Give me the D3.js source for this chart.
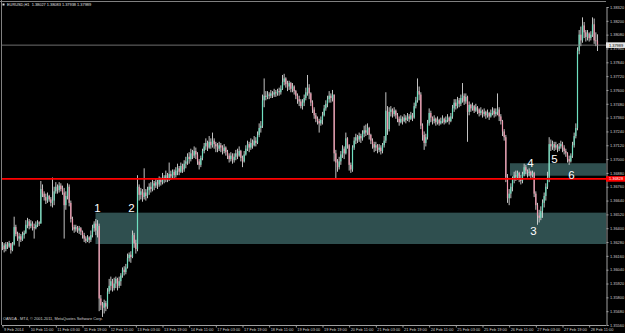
<!DOCTYPE html>
<html><head><meta charset="utf-8">
<script src="https://cdn.jsdelivr.net/npm/d3@7"></script>
<style>html,body{margin:0;padding:0;background:#000;overflow:hidden}svg{display:block}</style>
</head><body><svg id="c" width="625" height="333"></svg>
<script>
const symbolTitle = "EURUSD,H1  1.38027 1.38083 1.37938 1.37989";
const copyright = "OANDA - MT4, \u00A9 2001-2011, MetaQuotes Software Corp.";
const firstOpen = 1.3624;
const closes = [
1.3625,1.3622,1.3626,1.3624,1.3627,1.3621,1.3626,1.3641,1.3635,1.3631,
1.3633,1.3630,1.3634,1.3636,1.3643,1.3646,1.3642,1.3644,1.3641,1.3640,
1.3643,1.3645,1.3644,1.3674,1.3670,1.3667,1.3664,1.3668,1.3665,1.3662,
1.3664,1.3672,1.3676,1.3673,1.3677,1.3674,1.3671,1.3660,1.3668,1.3676,
1.3662,1.3648,1.3641,1.3639,1.3641,1.3638,1.3640,1.3637,1.3634,1.3631,
1.3629,1.3632,1.3630,1.3634,1.3640,1.3644,1.3638,1.3642,1.3579,1.3573,
1.3571,1.3575,1.3572,1.3585,1.3590,1.3594,1.3588,1.3592,1.3596,1.3590,
1.3594,1.3599,1.3604,1.3602,1.3606,1.3614,1.3617,1.3615,1.3634,1.3627,
1.3622,1.3676,1.3669,1.3672,1.3667,1.3671,1.3668,1.3673,1.3676,1.3674,
1.3679,1.3677,1.3680,1.3678,1.3682,1.3680,1.3684,1.3682,1.3686,1.3683,
1.3687,1.3685,1.3689,1.3686,1.3690,1.3692,1.3689,1.3694,1.3691,1.3696,
1.3698,1.3702,1.3700,1.3705,1.3703,1.3707,1.3704,1.3698,1.3695,1.3701,
1.3707,1.3711,1.3714,1.3710,1.3715,1.3712,1.3716,1.3713,1.3711,1.3709,
1.3712,1.3710,1.3707,1.3710,1.3706,1.3703,1.3700,1.3703,1.3699,1.3702,
1.3705,1.3703,1.3707,1.3701,1.3698,1.3704,1.3709,1.3713,1.3710,1.3714,
1.3712,1.3716,1.3714,1.3721,1.3727,1.3729,1.3751,1.3755,1.3754,1.3756,
1.3755,1.3757,1.3756,1.3758,1.3757,1.3759,1.3758,1.3761,1.3767,1.3770,
1.3765,1.3763,1.3766,1.3761,1.3763,1.3759,1.3755,1.3752,1.3750,1.3746,
1.3749,1.3753,1.3758,1.3762,1.3757,1.3749,1.3743,1.3738,1.3735,1.3733,
1.3731,1.3734,1.3738,1.3744,1.3748,1.3752,1.3755,1.3753,1.3756,1.3705,
1.3697,1.3693,1.3698,1.3704,1.3709,1.3705,1.3718,1.3712,1.3695,1.3691,
1.3710,1.3716,1.3719,1.3717,1.3720,1.3718,1.3722,1.3725,1.3723,1.3727,
1.3721,1.3716,1.3713,1.3710,1.3712,1.3708,1.3710,1.3707,1.3712,1.3716,
1.3742,1.3726,1.3741,1.3743,1.3739,1.3742,1.3738,1.3735,1.3732,1.3735,
1.3733,1.3736,1.3734,1.3737,1.3735,1.3738,1.3736,1.3746,1.3751,1.3759,
1.3756,1.3729,1.3721,1.3714,1.3719,1.3731,1.3740,1.3736,1.3733,1.3735,
1.3732,1.3734,1.3731,1.3733,1.3735,1.3732,1.3734,1.3736,1.3733,1.3737,
1.3744,1.3749,1.3746,1.3751,1.3748,1.3753,1.3755,1.3750,1.3754,1.3741,
1.3747,1.3744,1.3746,1.3742,1.3745,1.3743,1.3740,1.3742,1.3739,1.3741,
1.3738,1.3740,1.3737,1.3740,1.3742,1.3739,1.3741,1.3743,1.3737,1.3733,
1.3724,1.3719,1.3684,1.3666,1.3670,1.3676,1.3682,1.3686,1.3684,1.3688,
1.3683,1.3681,1.3687,1.3693,1.3690,1.3688,1.3689,1.3686,1.3688,1.3670,
1.3660,1.3651,1.3649,1.3655,1.3662,1.3668,1.3676,1.3684,1.3713,1.3711,
1.3713,1.3710,1.3712,1.3709,1.3711,1.3713,1.3710,1.3707,1.3705,1.3700,
1.3698,1.3703,1.3712,1.3720,1.3727,1.3794,1.3808,1.3803,1.3816,1.3810,
1.3806,1.3809,1.3805,1.3808,1.3817,1.3803,1.38027,1.37989];
const highs = [
1.3628,1.3627,1.3628,1.3628,1.3629,1.3627,1.3628,1.3650,1.3643,1.3637,
1.3636,1.3635,1.3637,1.3638,1.3647,1.3649,1.3648,1.3647,1.3646,1.3644,
1.3646,1.3647,1.3646,1.3681,1.3678,1.3672,1.3670,1.3671,1.3669,1.3667,
1.3684,1.3676,1.3680,1.3678,1.3680,1.3679,1.3677,1.3675,1.3672,1.3679,
1.3678,1.3664,1.3650,1.3643,1.3643,1.3642,1.3642,1.3641,1.3638,1.3636,
1.3633,1.3634,1.3633,1.3638,1.3643,1.3646,1.3648,1.3647,1.3644,1.3582,
1.3576,1.3578,1.3577,1.3588,1.3596,1.3598,1.3596,1.3597,1.3598,1.3597,
1.3598,1.3601,1.3606,1.3607,1.3609,1.3618,1.3619,1.3620,1.3638,1.3636,
1.3630,1.3686,1.3678,1.3675,1.3674,1.3692,1.3674,1.3676,1.3679,1.3680,
1.3682,1.3681,1.3683,1.3682,1.3685,1.3684,1.3688,1.3686,1.3690,1.3688,
1.3697,1.3690,1.3691,1.3691,1.3693,1.3696,1.3694,1.3697,1.3696,1.3699,
1.3702,1.3705,1.3706,1.3709,1.3708,1.3711,1.3710,1.3706,1.3700,1.3703,
1.3709,1.3714,1.3718,1.3716,1.3720,1.3718,1.3723,1.3718,1.3715,1.3714,
1.3715,1.3714,1.3712,1.3713,1.3711,1.3708,1.3705,1.3706,1.3705,1.3705,
1.3708,1.3709,1.3711,1.3708,1.3703,1.3707,1.3712,1.3716,1.3715,1.3718,
1.3717,1.3720,1.3719,1.3724,1.3731,1.3733,1.3756,1.3770,1.3759,1.3759,
1.3758,1.3760,1.3759,1.3761,1.3760,1.3761,1.3762,1.3764,1.3773,1.3774,
1.3771,1.3768,1.3768,1.3767,1.3766,1.3764,1.3760,1.3757,1.3755,1.3752,
1.3752,1.3756,1.3762,1.3773,1.3765,1.3758,1.3751,1.3745,1.3740,1.3737,
1.3735,1.3737,1.3741,1.3747,1.3751,1.3755,1.3759,1.3757,1.3760,1.3756,
1.3708,1.3700,1.3702,1.3707,1.3712,1.3711,1.3723,1.3719,1.3713,1.3697,
1.3712,1.3719,1.3722,1.3721,1.3723,1.3722,1.3725,1.3729,1.3730,1.3731,
1.3728,1.3722,1.3718,1.3715,1.3715,1.3713,1.3713,1.3712,1.3714,1.3720,
1.3758,1.3746,1.3745,1.3746,1.3744,1.3745,1.3743,1.3740,1.3737,1.3738,
1.3737,1.3739,1.3738,1.3740,1.3739,1.3741,1.3740,1.3749,1.3754,1.3770,
1.3763,1.3758,1.3731,1.3724,1.3722,1.3734,1.3744,1.3742,1.3737,1.3738,
1.3736,1.3737,1.3735,1.3736,1.3738,1.3736,1.3737,1.3739,1.3737,1.3740,
1.3747,1.3752,1.3752,1.3754,1.3753,1.3756,1.3766,1.3757,1.3757,1.3755,
1.3750,1.3748,1.3749,1.3747,1.3748,1.3746,1.3744,1.3745,1.3743,1.3744,
1.3742,1.3743,1.3741,1.3743,1.3745,1.3744,1.3744,1.3757,1.3745,1.3739,
1.3734,1.3726,1.3721,1.3687,1.3674,1.3679,1.3685,1.3689,1.3690,1.3690,
1.3689,1.3686,1.3689,1.3696,1.3695,1.3691,1.3692,1.3690,1.3690,1.3689,
1.3672,1.3662,1.3656,1.3659,1.3665,1.3671,1.3679,1.3689,1.3719,1.3717,
1.3716,1.3715,1.3715,1.3713,1.3714,1.3716,1.3715,1.3712,1.3709,1.3706,
1.3703,1.3705,1.3715,1.3723,1.3731,1.3797,1.3812,1.3815,1.3823,1.3819,
1.3812,1.3812,1.3810,1.3811,1.3823,1.3822,1.3810,1.38083];
const lows = [
1.3621,1.3619,1.3620,1.3622,1.3623,1.3618,1.3620,1.3625,1.3633,1.3629,
1.3624,1.3628,1.3629,1.3631,1.3635,1.3640,1.3639,1.3640,1.3638,1.3631,
1.3639,1.3641,1.3642,1.3644,1.3667,1.3664,1.3661,1.3662,1.3663,1.3659,
1.3658,1.3660,1.3670,1.3670,1.3671,1.3672,1.3669,1.3631,1.3656,1.3665,
1.3659,1.3645,1.3638,1.3636,1.3637,1.3636,1.3635,1.3634,1.3631,1.3628,
1.3627,1.3628,1.3627,1.3628,1.3632,1.3637,1.3634,1.3632,1.3568,1.3569,
1.3563,1.3566,1.3568,1.3570,1.3583,1.3586,1.3585,1.3586,1.3588,1.3586,
1.3588,1.3590,1.3597,1.3599,1.3600,1.3605,1.3611,1.3610,1.3614,1.3623,
1.3618,1.3620,1.3664,1.3665,1.3663,1.3665,1.3664,1.3666,1.3669,1.3671,
1.3672,1.3673,1.3675,1.3674,1.3676,1.3677,1.3678,1.3679,1.3680,1.3680,
1.3681,1.3682,1.3683,1.3683,1.3684,1.3686,1.3686,1.3688,1.3688,1.3689,
1.3692,1.3695,1.3696,1.3698,1.3700,1.3701,1.3700,1.3695,1.3691,1.3693,
1.3699,1.3705,1.3708,1.3707,1.3709,1.3709,1.3710,1.3709,1.3706,1.3706,
1.3707,1.3706,1.3704,1.3705,1.3703,1.3700,1.3697,1.3698,1.3696,1.3697,
1.3699,1.3700,1.3702,1.3698,1.3693,1.3697,1.3703,1.3707,1.3706,1.3708,
1.3709,1.3711,1.3711,1.3713,1.3719,1.3723,1.3727,1.3745,1.3751,1.3752,
1.3752,1.3753,1.3753,1.3754,1.3754,1.3755,1.3755,1.3756,1.3760,1.3764,
1.3762,1.3759,1.3760,1.3758,1.3758,1.3756,1.3752,1.3748,1.3746,1.3744,
1.3743,1.3746,1.3751,1.3755,1.3752,1.3746,1.3740,1.3735,1.3732,1.3730,
1.3723,1.3729,1.3730,1.3737,1.3742,1.3745,1.3749,1.3749,1.3750,1.3698,
1.3683,1.3689,1.3691,1.3695,1.3701,1.3700,1.3704,1.3709,1.3690,1.3688,
1.3689,1.3708,1.3713,1.3714,1.3715,1.3714,1.3716,1.3719,1.3720,1.3721,
1.3717,1.3713,1.3709,1.3706,1.3707,1.3705,1.3706,1.3704,1.3705,1.3710,
1.3714,1.3721,1.3724,1.3737,1.3736,1.3737,1.3735,1.3732,1.3729,1.3731,
1.3730,1.3732,1.3731,1.3733,1.3732,1.3734,1.3733,1.3735,1.3744,1.3749,
1.3751,1.3726,1.3716,1.3708,1.3711,1.3717,1.3729,1.3732,1.3730,1.3731,
1.3729,1.3730,1.3729,1.3730,1.3731,1.3730,1.3731,1.3732,1.3730,1.3732,
1.3735,1.3741,1.3743,1.3744,1.3745,1.3746,1.3749,1.3747,1.3748,1.3715,
1.3738,1.3741,1.3742,1.3740,1.3741,1.3739,1.3737,1.3738,1.3736,1.3737,
1.3735,1.3736,1.3734,1.3736,1.3738,1.3736,1.3737,1.3738,1.3733,1.3730,
1.3720,1.3716,1.3680,1.3662,1.3660,1.3666,1.3672,1.3679,1.3681,1.3682,
1.3680,1.3678,1.3679,1.3685,1.3687,1.3684,1.3685,1.3683,1.3684,1.3667,
1.3656,1.3643,1.3645,1.3647,1.3649,1.3658,1.3664,1.3674,1.3680,1.3707,
1.3708,1.3707,1.3708,1.3706,1.3707,1.3709,1.3706,1.3704,1.3702,1.3697,
1.3695,1.3697,1.3701,1.3710,1.3718,1.3725,1.3791,1.3798,1.3801,1.3805,
1.3802,1.3803,1.3802,1.3803,1.3806,1.3800,1.3798,1.37938];

const priceTicks = [1.38320,1.38200,1.38080,1.37960,1.37840,1.37720,1.37600,1.37480,1.37360,1.37240,1.37120,1.37000,
  1.36880,1.36760,1.36640,1.36520,1.36400,1.36280,1.36160,1.36040,1.35920,1.35800,1.35680,1.35560];
const timeLabels = ["9 Feb 2014","10 Feb 11:00","11 Feb 03:00","11 Feb 19:00","12 Feb 11:00","13 Feb 03:00","13 Feb 19:00",
  "14 Feb 11:00","17 Feb 03:00","17 Feb 19:00","18 Feb 11:00","19 Feb 03:00","19 Feb 19:00","20 Feb 11:00","21 Feb 03:00",
  "21 Feb 19:00","24 Feb 11:00","25 Feb 03:00","25 Feb 19:00","26 Feb 11:00","27 Feb 03:00","27 Feb 19:00","28 Feb 11:00"];
const timeLabelBars = [0,16,32,48,64,80,96,112,128,144,160,176,192,208,224,240,256,272,288,304,320,336,352];

const zoneStartBar = [55.8, 304.5];
const zoneHigh = [1.36535, 1.36964];
const zoneLow = [1.36263, 1.36856];
const levelPrice = 1.36828;
const bidPrice = 1.37989;
const markText = ["1","2","3","4","5","6"];
const markBar = [57, 77.4, 318.6, 316.8, 331.2, 341.4];
const markPrice = [1.36541, 1.36541, 1.36341, 1.36931, 1.36966, 1.36827];

const W = 625, H = 333;
const plotL = 2, plotR = 606, plotT = 2, plotB = 325;
const svg = d3.select("#c");
svg.append("rect").attr("width", W).attr("height", H).attr("fill", "#000");

const x = d3.scaleLinear().domain([0, closes.length - 1]).range([2.5, 597.5]);
const y = d3.scaleLinear().domain([1.35560, 1.38320]).range([325, 7]);

const bars = closes.map((c, i) => ({i, o: i === 0 ? firstOpen : closes[i - 1], h: highs[i], l: lows[i], c}));

svg.append("clipPath").attr("id", "clip").append("rect")
  .attr("x", plotL).attr("y", plotT).attr("width", plotR - plotL).attr("height", plotB - plotT);
const plot = svg.append("g").attr("clip-path", "url(#clip)");

// zones
plot.selectAll("rect.zone").data(zoneStartBar).join("rect").attr("class", "zone")
  .attr("x", d => x(d)).attr("y", (d, k) => y(zoneHigh[k]))
  .attr("width", d => plotR - x(d)).attr("height", (d, k) => y(zoneLow[k]) - y(zoneHigh[k]))
  .attr("fill", "#2f4f4f");

// candles
const cg = plot.append("g");
cg.selectAll("line.w").data(bars).join("line").attr("class", "w")
  .attr("x1", d => x(d.i)).attr("x2", d => x(d.i))
  .attr("y1", d => y(d.h)).attr("y2", d => y(d.l))
  .attr("stroke", "#d8d8d8").attr("stroke-width", 0.9);
cg.selectAll("rect.b").data(bars).join("rect").attr("class", "b")
  .attr("x", d => x(d.i) - 0.6).attr("width", 1.2)
  .attr("y", d => y(Math.max(d.o, d.c)))
  .attr("height", d => Math.max(0.8, Math.abs(y(d.o) - y(d.c))))
  .attr("fill", d => d.c >= d.o ? "#6fe0c0" : "#f39ab0");

// level line
plot.append("line").attr("x1", plotL).attr("x2", plotR)
  .attr("y1", y(levelPrice)).attr("y2", y(levelPrice))
  .attr("stroke", "#ff0000").attr("stroke-width", 1.8);
// bid line
plot.append("line").attr("x1", plotL).attr("x2", plotR)
  .attr("y1", y(bidPrice)).attr("y2", y(bidPrice))
  .attr("stroke", "#8a8a8a").attr("stroke-width", 0.8);

// marks
plot.selectAll("text.mk").data(markText).join("text").attr("class", "mk")
  .attr("x", (d, k) => x(markBar[k])).attr("y", (d, k) => y(markPrice[k]))
  .attr("text-anchor", "middle").attr("fill", "#ffffff")
  .attr("font-family", "Liberation Sans, Arial, sans-serif").attr("font-size", 11.5)
  .text(d => d);

// borders
svg.append("line").attr("x1", 0).attr("x2", plotR).attr("y1", 1.5).attr("y2", 1.5).attr("stroke", "#808080");
svg.append("line").attr("x1", 1.5).attr("x2", 1.5).attr("y1", 0).attr("y2", plotB).attr("stroke", "#808080");

// axes
const fontFam = "Liberation Sans, Arial, sans-serif";
const yAxis = svg.append("g").attr("transform", `translate(${plotR + 0.5},0)`)
  .call(d3.axisRight(y).tickValues(priceTicks).tickFormat(d3.format(".5f")).tickSize(2).tickPadding(1.5));
yAxis.select(".domain").attr("stroke", "#a0a0a0");
yAxis.selectAll(".tick line").attr("stroke", "#a0a0a0");
yAxis.selectAll("text").attr("fill", "#d0d0d0").attr("font-size", 3.9).attr("font-family", fontFam);

const xAxis = svg.append("g").attr("transform", `translate(0,${plotB + 0.5})`)
  .call(d3.axisBottom(x).tickValues(timeLabelBars).tickFormat((d, k) => timeLabels[k]).tickSize(2).tickPadding(1));
xAxis.select(".domain").attr("stroke", "#a0a0a0").attr("d", `M${plotL},0H${plotR}`);
xAxis.selectAll(".tick line").attr("stroke", "#a0a0a0");
xAxis.selectAll("text").attr("fill", "#d0d0d0").attr("font-size", 3.9).attr("font-family", fontFam)
  .attr("text-anchor", "start").attr("dx", 1);

// price labels
const bidG = svg.append("g");
bidG.append("rect").attr("x", plotR).attr("y", y(bidPrice) - 2.8).attr("width", 19).attr("height", 5.6).attr("fill", "#e6e6e6");
bidG.append("text").attr("x", plotR + 3).attr("y", y(bidPrice)).attr("dy", "0.35em")
  .attr("fill", "#000").attr("font-size", 3.9).attr("font-family", fontFam).text(d3.format(".5f")(bidPrice));
const lvlG = svg.append("g");
lvlG.append("rect").attr("x", plotR).attr("y", y(levelPrice) - 2.8).attr("width", 19).attr("height", 5.6).attr("fill", "#ff0000");
lvlG.append("text").attr("x", plotR + 3).attr("y", y(levelPrice)).attr("dy", "0.35em")
  .attr("fill", "#fff").attr("font-size", 3.9).attr("font-family", fontFam).text(d3.format(".5f")(levelPrice));

// title & copyright
svg.append("rect").attr("x", 2.5).attr("y", 3.5).attr("width", 2).attr("height", 2).attr("fill", "#e0e0e0");
svg.append("text").attr("x", 7).attr("y", 6.4).attr("fill", "#e0e0e0").attr("font-size", 3.9)
  .attr("font-family", fontFam).attr("xml:space", "preserve").text(symbolTitle);
svg.append("text").attr("x", 3).attr("y", 319.5).attr("fill", "#d0d0d0").attr("font-size", 3.9)
  .attr("font-family", fontFam).text(copyright);
</script></body></html>
